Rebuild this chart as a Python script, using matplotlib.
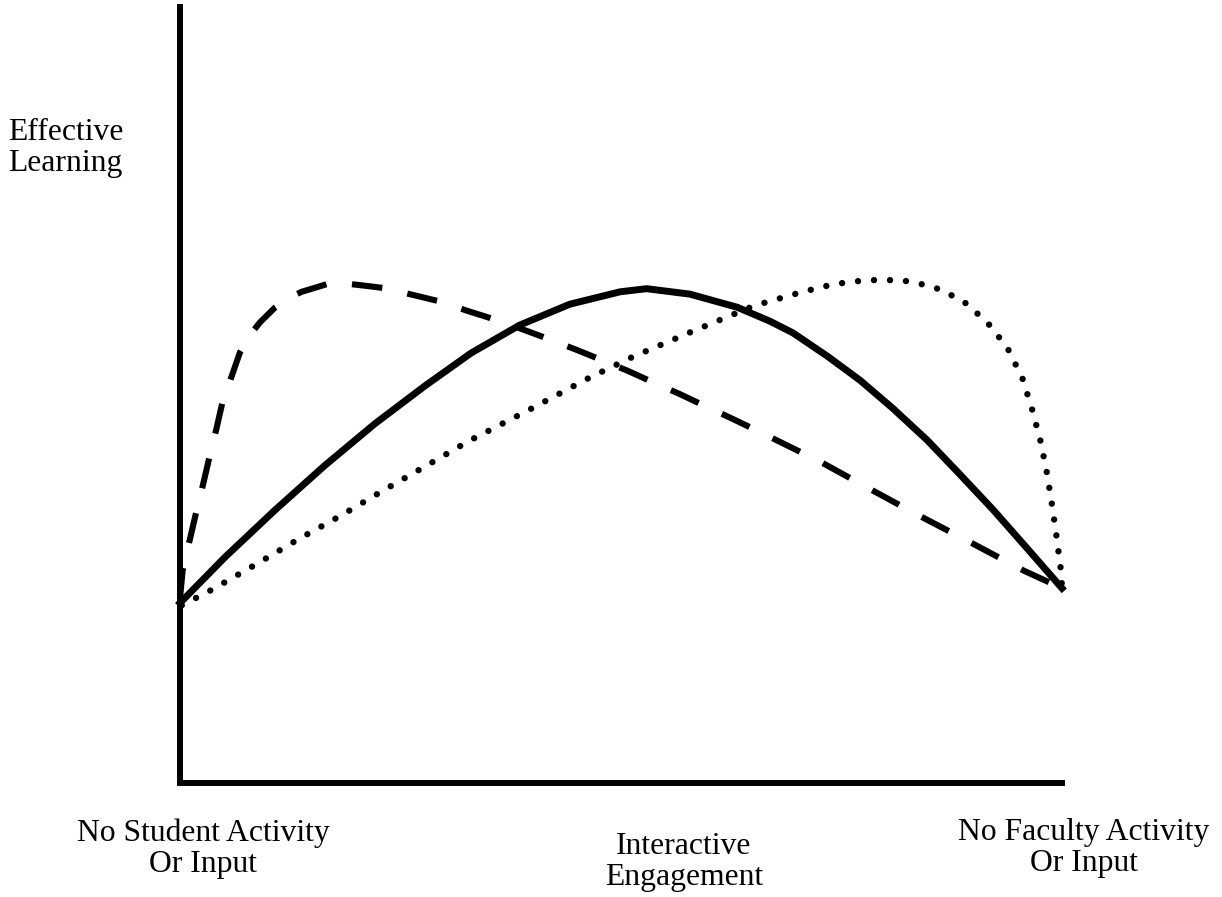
import matplotlib.pyplot as plt

plt.rcParams['font.family'] = ['Liberation Serif', 'DejaVu Serif']

# x: 0 = no student activity, 100 = no faculty activity ; y: effective learning (0-100)
solid_x = [0, 5.1, 10.8, 16.4, 22.1, 27.8, 33.0, 38.5, 44.2, 49.9, 52.9, 57.8, 63.2, 66.9,
           69.5, 73.4, 77.1, 80.8, 84.7, 88.4, 92.2, 96.0, 100]
solid_y = [23.2, 29.1, 35.2, 40.9, 46.3, 51.2, 55.4, 59.0, 61.7, 63.3, 63.7, 63.0, 61.3, 59.5,
           58.0, 55.0, 51.9, 48.3, 44.2, 39.8, 35.2, 30.3, 25.1]

dashed_x = [0, 0.3, 1.1, 1.9, 2.6, 3.4, 4.1, 4.8, 5.7, 6.8, 7.9, 9.1, 10.8, 12.5, 13.8, 16.7,
            18.4, 20.1, 23.0, 26.4, 29.3, 32.7, 35.5, 38.5, 41.6, 45.0, 47.6, 50.8, 53.5,
            56.7, 59.3, 62.7, 65.8, 69.2, 72.6, 78.2, 83.9, 89.8, 95.6, 100]
dashed_y = [23.8, 27.4, 31.3, 35.2, 38.4, 42.3, 45.5, 49.0, 51.9, 55.5, 57.7, 59.4, 61.3, 62.6,
            63.3, 64.3, 64.4, 64.2, 63.8, 62.9, 62.1, 60.8, 59.8, 58.6, 57.3, 55.8, 54.6,
            53.1, 51.7, 50.1, 48.7, 46.9, 45.2, 43.3, 41.4, 37.9, 34.4, 30.9, 27.4, 25.1]

dotted_x = [0.2, 3.6, 8.5, 13.4, 18.3, 23.2, 28.1, 32.8, 39.6, 46.2, 51.3, 58.1, 65.1, 70.6,
            74.2, 77.8, 81.8, 85.3, 88.7, 91.5, 93.8, 95.5, 96.6, 97.6, 98.3, 98.9, 99.4,
            99.9, 100]
dotted_y = [22.9, 24.9, 28.1, 31.4, 34.5, 37.8, 41.0, 44.1, 48.1, 52.1, 54.9, 58.2, 61.5, 63.3,
            64.3, 64.8, 64.8, 64.0, 62.2, 59.4, 56.1, 52.2, 48.2, 43.9, 39.9, 35.6, 31.6,
            27.2, 25.1]

y_label = ['Effective', 'Learning']
x_labels = [['No Student Activity', 'Or Input'],
            ['Interactive', 'Engagement'],
            ['No Faculty Activity', 'Or Input']]

W, H = 1222, 897
fig = plt.figure(figsize=(W / 100, H / 100), dpi=100)
ax = fig.add_axes([180 / W, (H - 783) / H, (1062 - 180) / W, (783 - 7) / H])
ax.set_xlim(0, 100)
ax.set_ylim(0, 100)

for s in ['top', 'right']:
    ax.spines[s].set_visible(False)
for s in ['left', 'bottom']:
    ax.spines[s].set_linewidth(4.3)
    ax.spines[s].set_color('black')
ax.set_xticks([])
ax.set_yticks([])

ax.plot(solid_x, solid_y, color='black', lw=5, solid_joinstyle='round', clip_on=False)
ax.plot(dashed_x, dashed_y, color='black', lw=4.4, linestyle=(0, (5, 4.2)),
        dash_capstyle='butt', dash_joinstyle='round', clip_on=False)
ax.plot(dotted_x, dotted_y, color='black', lw=4.6, linestyle=(0, (0.01, 2.5)),
        dash_capstyle='round', clip_on=False)

fs = 22.8
step = 31
# y label, left aligned
for i, line in enumerate(y_label):
    fig.text(8 / W, 1 - (140 + step * i) / H, line, fontsize=fs, ha='left', va='baseline')

# x labels under the axis
centers = [203, 684, 1084]
firsts = [841, 854, 840]
for lines, cx, b0 in zip(x_labels, centers, firsts):
    for i, line in enumerate(lines):
        fig.text(cx / W, 1 - (b0 + step * i) / H, line, fontsize=fs, ha='center', va='baseline')

fig.savefig('out.png', dpi=100, facecolor='white')
